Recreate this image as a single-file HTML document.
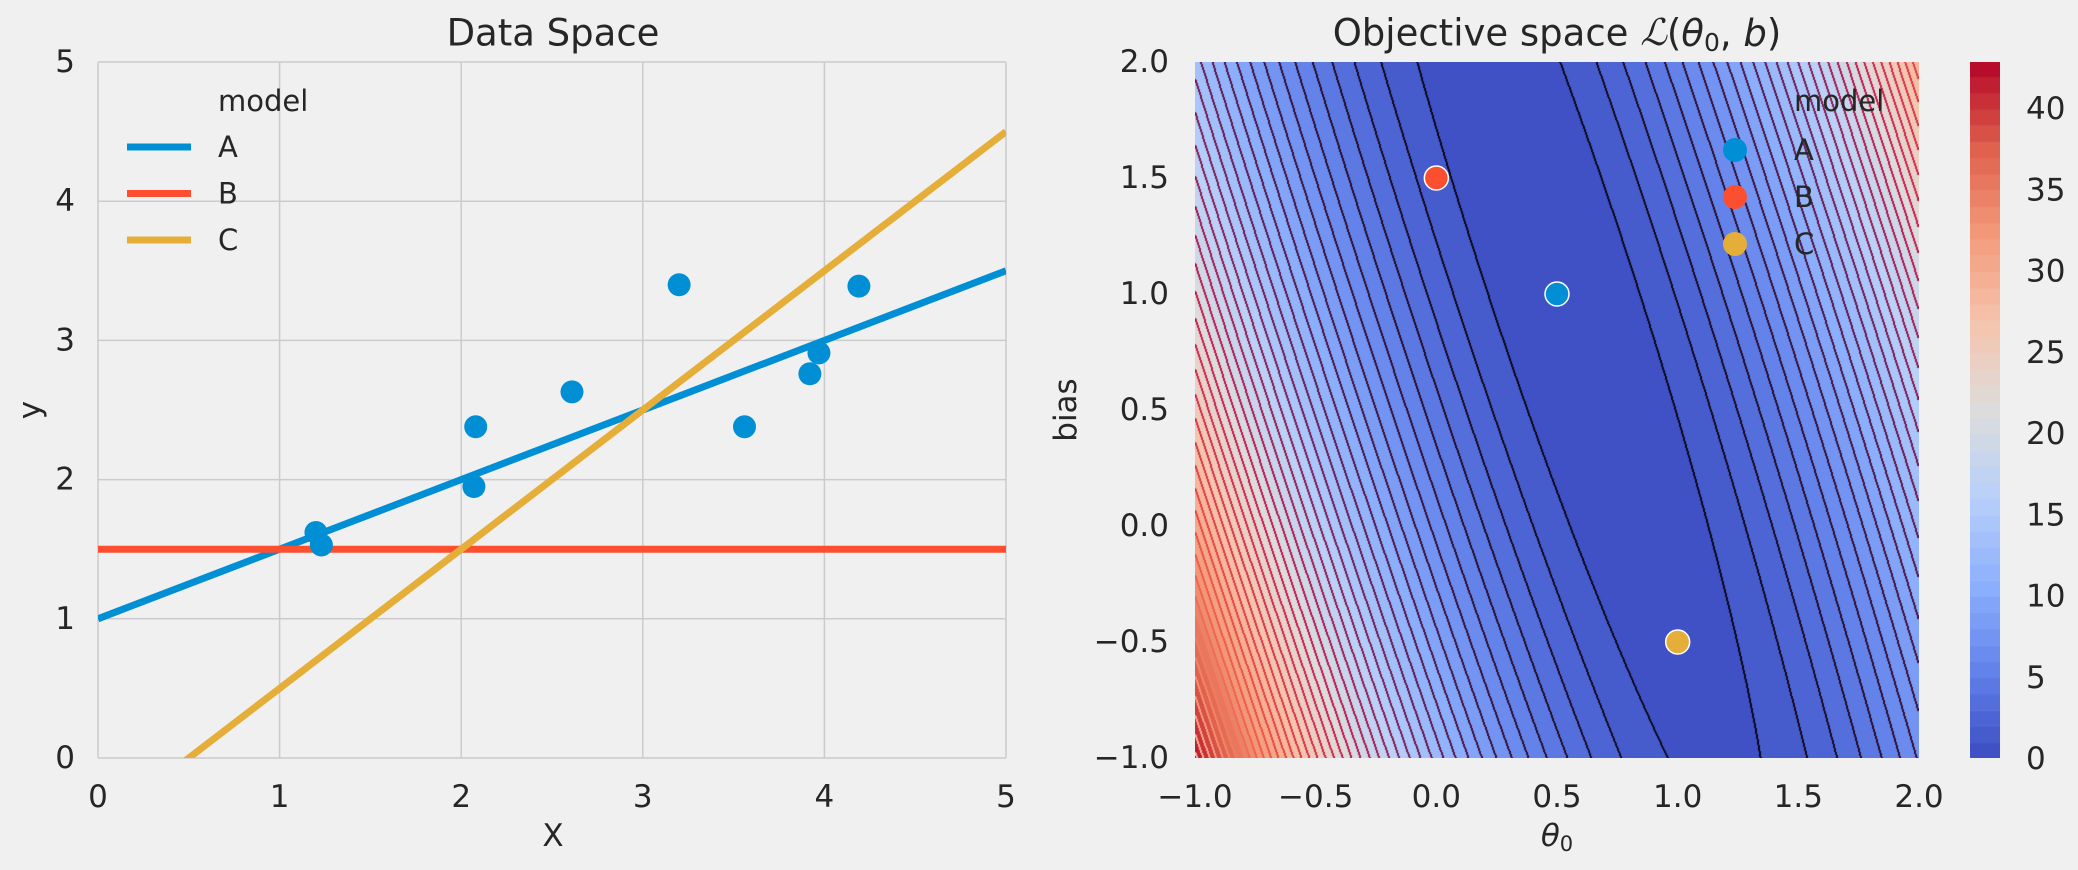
<!DOCTYPE html>
<html><head><meta charset="utf-8"><style>
html,body{margin:0;padding:0;background:#f0f0f0;}
#wrap{position:relative;width:2078px;height:870px;overflow:hidden;font-family:"DejaVu Sans","Liberation Sans",sans-serif;}
canvas{position:absolute;}
svg{position:absolute;left:0;top:0;}
text{fill:#262626;font-family:"DejaVu Sans","Liberation Sans",sans-serif;}
</style></head><body>
<div id="wrap">
<canvas id="heat" width="724" height="696" style="left:1195px;top:62px"></canvas>
<canvas id="cbar" width="30" height="696" style="left:1970px;top:62px"></canvas>
<svg id="svg" width="2078" height="870" xmlns="http://www.w3.org/2000/svg"></svg>
</div>
<script>
// data
const pointsX = [1.20, 1.23, 2.08, 2.07, 2.61, 3.20, 3.56, 3.92, 3.97, 4.19];
const pointsY = [1.62, 1.53, 2.38, 1.95, 2.63, 3.40, 2.38, 2.76, 2.91, 3.39];
const modelNames = ["A", "B", "C"];
const modelTheta = [0.5, 0, 1];
const modelBias = [1, 1.5, -0.5];
const modelColors = ["#008fd5", "#fc4f30", "#e5ae38"];
const xTicksL = [0, 1, 2, 3, 4, 5];
const yTicksL = [0, 1, 2, 3, 4, 5];
const xTicksR = ["−1.0", "−0.5", "0.0", "0.5", "1.0", "1.5", "2.0"];
const xTickValsR = [-1, -0.5, 0, 0.5, 1, 1.5, 2];
const yTickValsR = [-1, -0.5, 0, 0.5, 1, 1.5, 2];
const cbarTicks = [0, 5, 10, 15, 20, 25, 30, 35, 40];

const NS = "http://www.w3.org/2000/svg";
const svg = document.getElementById('svg');
function el(tag, attrs, parent) {
  const e = document.createElementNS(NS, tag);
  for (const k in attrs) e.setAttribute(k, attrs[k]);
  (parent || svg).appendChild(e);
  return e;
}
function txt(s, x, y, size, anchor, parent, name) {
  const t = el('text', {x: x, y: y, 'font-size': size, 'text-anchor': anchor || 'middle', 'dominant-baseline': 'central'}, parent);
  t.textContent = s;
  
  
  return t;
}
const FS = 31, LFS = 29;
const LX0 = 98, LX1 = 1006, TY0 = 758, TY1 = 62;
const lx = v => LX0 + (v - 0) / 5 * (LX1 - LX0);
const ly = v => TY0 - (v - 0) / 5 * (TY0 - TY1);
const RX0 = 1195, RX1 = 1919;
const rx = v => RX0 + (v + 1) / 3 * (RX1 - RX0);
const ry = v => TY0 - (v + 1) / 3 * (TY0 - TY1);

// LEFT PLOT
const gl = el('g', {});


const clip = el('clipPath', {id: 'lclip'}, gl);
el('rect', {x: LX0, y: TY1, width: LX1 - LX0, height: TY0 - TY1}, clip);
xTicksL.forEach(v => {
  const g = el('line', {x1: lx(v), x2: lx(v), y1: TY1, y2: TY0, stroke: '#cbcbcb', 'stroke-width': 1.5}, gl);
  
  
  txt(String(v), lx(v), 797, FS, 'middle', gl, 'x-tick-label');
});
yTicksL.forEach(v => {
  const g = el('line', {x1: LX0, x2: LX1, y1: ly(v), y2: ly(v), stroke: '#cbcbcb', 'stroke-width': 1.5}, gl);
  
  
  txt(String(v), 75, ly(v), FS, 'end', gl, 'y-tick-label');
});
const linesG = el('g', {'clip-path': 'url(#lclip)'}, gl);
modelNames.forEach((m, i) => {
  const f = x => modelTheta[i] * x + modelBias[i];
  const l = el('line', {x1: lx(0), y1: ly(f(0)), x2: lx(5), y2: ly(f(5)), stroke: modelColors[i], 'stroke-width': 7}, linesG);
  
  
});
pointsX.forEach((x, i) => {
  const c = el('circle', {cx: lx(x), cy: ly(pointsY[i]), r: 11.5, fill: '#008fd5'}, gl);
  
  
});
txt('Data Space', 553, 33, 37, 'middle', gl, 'left-title');
txt('X', 553, 836, FS, 'middle', gl, 'x-axis-title');
const yl = txt('y', 30, 410, FS, 'middle', gl, 'y-axis-title');
yl.setAttribute('transform', 'rotate(-90 30 410)');
txt('model', 218, 101, LFS, 'start', gl, 'legend-title');
modelNames.forEach((m, i) => {
  const yy = 147 + i * 46.5;
  const l = el('line', {x1: 127, x2: 191, y1: yy, y2: yy, stroke: modelColors[i], 'stroke-width': 7}, gl);
  
  
  txt(m, 218, yy, LFS, 'start', gl, 'legend-entry');
});

// RIGHT PLOT: loss
function loss(t, b) {
  let s = 0;
  for (let i = 0; i < pointsX.length; i++) { const r = pointsY[i] - (t * pointsX[i] + b); s += r * r; }
  return s / pointsX.length;
}
const stops = [[0,59,76,192],[0.125,98,130,234],[0.25,141,176,254],[0.375,184,208,249],[0.5,221,220,220],[0.625,245,196,173],[0.75,244,154,123],[0.875,222,96,77],[1,180,4,38]];
const lstops = [[0,5,5,20],[0.2,60,15,60],[0.35,120,25,80],[0.5,200,20,75],[0.7,235,70,60],[0.85,245,130,95],[1,250,200,170]];
function interp(st, u) {
  u = Math.max(0, Math.min(1, u));
  for (let i = 1; i < st.length; i++) {
    if (u <= st[i][0]) {
      const a = st[i-1], b = st[i], f = (u - a[0]) / (b[0] - a[0]);
      return [a[1] + f*(b[1]-a[1]), a[2] + f*(b[2]-a[2]), a[3] + f*(b[3]-a[3])];
    }
  }
  return st[st.length-1].slice(1);
}
const cw = u => interp(stops, u);
const STEP = 1, VMAX = 43;
const hc = document.getElementById('heat'), hx = hc.getContext('2d');
const W = hc.width, H = hc.height;
const img = hx.createImageData(W, H);
const lvl = new Int32Array(W * H);
for (let j = 0; j < H; j++) for (let i = 0; i < W; i++) {
  const t = -1 + (i + 0.5) / W * 3, b = 2 - (j + 0.5) / H * 3;
  lvl[j*W+i] = Math.floor(loss(t, b) / STEP);
}
for (let j = 0; j < H; j++) for (let i = 0; i < W; i++) {
  const k = lvl[j*W+i];
  let c = cw((k + 0.5) * STEP / VMAX);
  const kr = i + 1 < W ? lvl[j*W+i+1] : k, kd = j + 1 < H ? lvl[(j+1)*W+i] : k;
  const kl = i > 0 ? lvl[j*W+i-1] : k;
  if (kr !== k || kd !== k || kl !== k) {
    c = interp(lstops, Math.max(k, kr, kd, kl) * STEP / VMAX);
  }
  const p = (j*W+i)*4;
  img.data[p] = c[0]; img.data[p+1] = c[1]; img.data[p+2] = c[2]; img.data[p+3] = 255;
}
hx.putImageData(img, 0, 0);
const cc = document.getElementById('cbar'), cx = cc.getContext('2d');
const cbY = v => 759 - 62 - v * 16.25;
for (let k = 0; k < VMAX; k++) {
  const c = cw((k + 0.5) * STEP / VMAX);
  cx.fillStyle = 'rgb(' + c.map(Math.round).join(',') + ')';
  const y0 = cbY(k + 1), y1 = cbY(k);
  cx.fillRect(0, Math.max(0, y0), 30, y1 - Math.max(0, y0) + 0.5);
}
const gr = el('g', {});


cbarTicks.forEach(v => txt(String(v), 2026, 62 + cbY(v), FS, 'start', gr, 'colorbar-tick-label'));
xTickValsR.forEach((v, i) => txt(xTicksR[i], rx(v), 797, FS, 'middle', gr, 'x-tick-label'));
yTickValsR.forEach((v, i) => txt(xTicksR[i], 1169, ry(v), FS, 'end', gr, 'y-tick-label'));
modelNames.forEach((m, i) => {
  const c = el('circle', {cx: rx(modelTheta[i]), cy: ry(modelBias[i]), r: 12, fill: modelColors[i], stroke: '#fff', 'stroke-width': 1.5}, gr);
  
  
});
const title = el('text', {x: 1557, y: 33, 'font-size': 37, 'text-anchor': 'middle', 'dominant-baseline': 'central'}, gr);


title.innerHTML = 'Objective space <tspan font-family="Liberation Serif, serif" font-style="italic">ℒ</tspan>(<tspan font-style="italic">θ</tspan><tspan font-size="25" dy="9">0</tspan><tspan dy="-9">, </tspan><tspan font-style="italic">b</tspan>)';
const xt = el('text', {x: 1557, y: 836, 'font-size': FS, 'text-anchor': 'middle', 'dominant-baseline': 'central'}, gr);


xt.innerHTML = '<tspan font-style="italic">θ</tspan><tspan font-size="21" dy="8">0</tspan>';
const bl = txt('bias', 1066, 410, FS, 'middle', gr, 'y-axis-title');
bl.setAttribute('transform', 'rotate(-90 1066 410)');
txt('model', 1794, 101, LFS, 'start', gr, 'legend-title');
modelNames.forEach((m, i) => {
  const yy = 150 + i * 47;
  const c = el('circle', {cx: 1735, cy: yy, r: 12, fill: modelColors[i]}, gr);
  
  
  txt(m, 1794, yy, LFS, 'start', gr, 'legend-entry');
});
</script>
</body></html>
